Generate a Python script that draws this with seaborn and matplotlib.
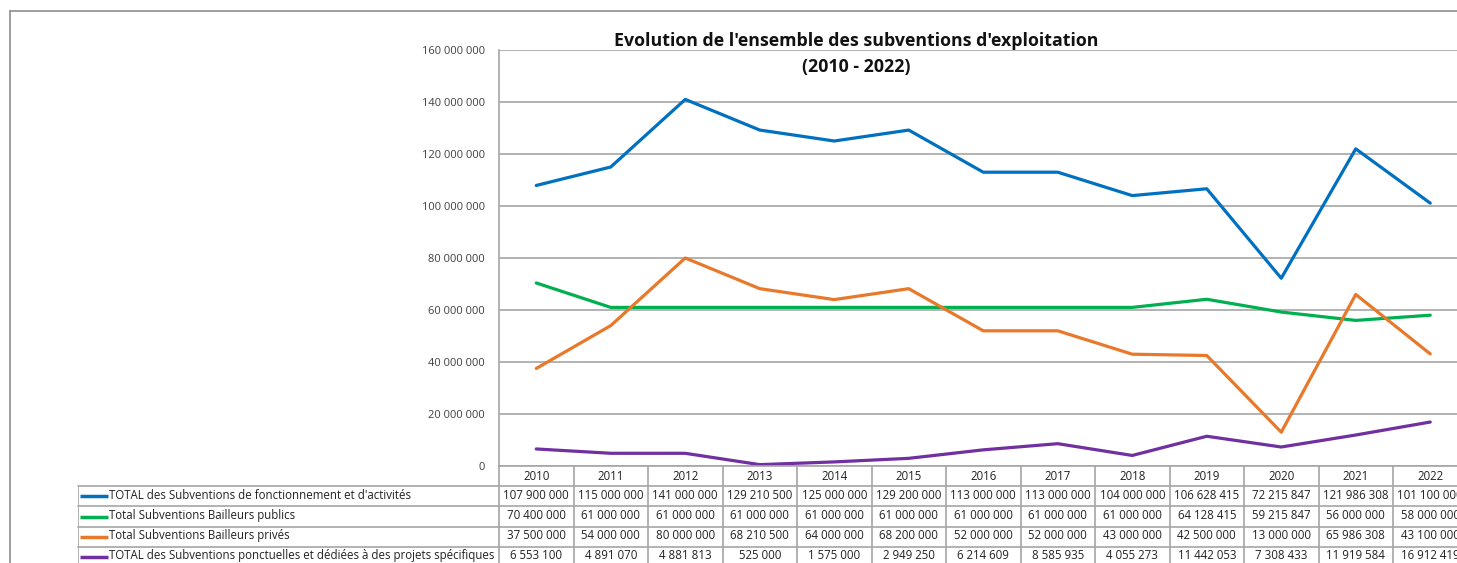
import numpy as np
import pandas as pd
import matplotlib
matplotlib.use("Agg")
import matplotlib.pyplot as plt
import seaborn as sns

years = [2010, 2011, 2012, 2013, 2014, 2015, 2016, 2017, 2018, 2019, 2020, 2021, 2022]
total_fonct = [107900000, 115000000, 141000000, 129210500, 125000000, 129200000, 113000000,
               113000000, 104000000, 106628415, 72215847, 121986308, 101100000]
bailleurs_publics = [70400000, 61000000, 61000000, 61000000, 61000000, 61000000, 61000000,
                     61000000, 61000000, 64128415, 59215847, 56000000, 58000000]
bailleurs_prives = [37500000, 54000000, 80000000, 68210500, 64000000, 68200000, 52000000,
                    52000000, 43000000, 42500000, 13000000, 65986308, 43100000]
ponctuelles = [6553100, 4891070, 4881813, 525000, 1575000, 2949250, 6214609,
               8585935, 4055273, 11442053, 7308433, 11919584, 16912419]

series_names = [
    "TOTAL des Subventions de fonctionnement et d'activités",
    "Total Subventions Bailleurs publics",
    "Total Subventions Bailleurs privés",
    "TOTAL des Subventions ponctuelles et dédiées à des projets spécifiques",
]
series_values = [total_fonct, bailleurs_publics, bailleurs_prives, ponctuelles]
colors = ["#0070C0", "#00B050", "#E8782A", "#7030A0"]
yticks = [0, 20000000, 40000000, 60000000, 80000000, 100000000, 120000000, 140000000, 160000000]

df = pd.DataFrame({
    "annee": years * len(series_names),
    "serie": [n for n in series_names for _ in years],
    "valeur": [v for vals in series_values for v in vals],
})

sns.set_style("white")
plt.rcParams["font.family"] = ["Open Sans", "DejaVu Sans"]

W, H = 1457, 563
fig = plt.figure(figsize=(W / 100, H / 100), dpi=100)
grid_c = "#A6A6A6"

def fmt(v):
    return f"{v:,}".replace(",", " ")

# main plot
ax = fig.add_axes([499 / W, (H - 466) / H, (1467.5 - 499) / W, (466 - 50) / H])
sns.lineplot(data=df, x="annee", y="valeur", hue="serie", hue_order=series_names,
             palette=colors, linewidth=2.3, legend=False, sort=False, ax=ax)
ax.set_xlim(years[0] - 0.5, years[-1] + 0.5)
ax.set_ylim(0, yticks[-1])
ax.set_yticks(yticks)
ax.set_yticklabels([fmt(t) for t in yticks], fontsize=8, color="#404040")
ax.set_xticks([])
ax.set_xlabel("")
ax.set_ylabel("")
ax.yaxis.grid(True, color=grid_c, linewidth=1.2)
ax.set_axisbelow(True)
ax.tick_params(axis="y", length=0, pad=10)
for s in ["top", "right"]:
    ax.spines[s].set_visible(False)
ax.spines["left"].set_color(grid_c)
ax.spines["bottom"].set_color(grid_c)
ax.spines["left"].set_linewidth(1.2)
ax.spines["bottom"].set_linewidth(1.2)

fig.text(856 / W, (H - 41) / H, "Evolution de l'ensemble des subventions d'exploitation",
         ha="center", va="center", fontsize=12.8, fontweight="bold", color="#111111")
fig.text(856 / W, (H - 67) / H, "(2010 - 2022)", ha="center", va="center",
         fontsize=12.8, fontweight="bold", color="#111111")

# data table below the plot
col_w = 74.5
label_cols = (499 - 78) / col_w
tab = fig.add_axes([78 / W, (H - 567) / H, (1467.5 - 78) / W, (567 - 466) / H])
x0 = years[0] - 0.5 - label_cols
tab.set_xlim(x0, years[-1] + 0.5)
tab.set_ylim(5, 0)
tab.axis("off")
for i in range(len(years) + 1):
    xb = years[0] - 0.5 + i
    tab.plot([xb, xb], [0, 5], color=grid_c, lw=1.2, clip_on=False)
tab.plot([x0, x0], [1, 5], color=grid_c, lw=1.2)
for r in range(1, 5):
    tab.plot([x0, years[-1] + 0.5], [r, r], color=grid_c, lw=1.2, clip_on=False)
for yr in years:
    tab.text(yr, 0.5, str(yr), ha="center", va="center", fontsize=8.3, color="#222222")
for r, (name, vals, c) in enumerate(zip(series_names, series_values, colors), start=1):
    tab.plot([x0 + 0.03, x0 + 0.4], [r + 0.5, r + 0.5], color=c, lw=2.5, solid_capstyle="butt")
    tab.text(x0 + 0.42, r + 0.45, name, ha="left", va="center", fontsize=8.3, color="#222222")
    for yr, v in zip(years, vals):
        tab.text(yr, r + 0.45, fmt(v), ha="center", va="center", fontsize=8.3, color="#222222")

# outer frame of the chart area
fig.add_artist(plt.Line2D([10 / W, 10 / W], [0, (H - 11) / H], color="#8C8C8C", lw=1.2))
fig.add_artist(plt.Line2D([10 / W, 1], [(H - 11) / H, (H - 11) / H], color="#8C8C8C", lw=1.2))

fig.savefig("out.png", dpi=100)
